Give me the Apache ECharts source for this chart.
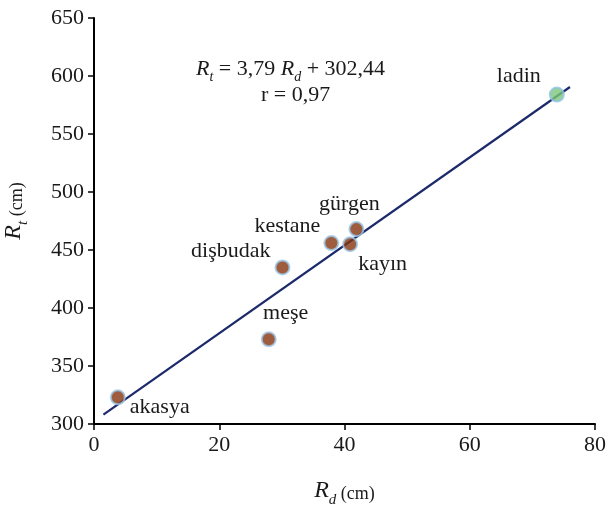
<!DOCTYPE html>
<html>
<head>
<meta charset="utf-8">
<script src="https://cdn.jsdelivr.net/npm/echarts@6/dist/echarts.min.js"></script>
<style>html,body{margin:0;padding:0;background:#fff}#c{width:609px;height:506px}</style>
</head>
<body>
<div id="c"></div>
<script>
// Data
const species = ['akasya', 'meşe', 'dişbudak', 'kestane', 'kayın', 'gürgen', 'ladin'];
const rdValues = [3.8, 27.9, 30.1, 37.9, 40.9, 41.9, 73.9];
const rtValues = [323, 373, 435, 456, 455, 468, 584];
const fitLineX = [1.5, 76];
const fitLineY = [308, 590.5];
const xTicks = [0, 20, 40, 60, 80];
const yTicks = [300, 350, 400, 450, 500, 550, 600, 650];

const FONT = '"Liberation Serif", "DejaVu Serif", serif';

// label placement per species: [align, verticalAlign, dx, dy]
const labelPlace = {
  'akasya':   ['left', 'middle', 12, 10],
  'meşe':     ['center', 'middle', 17, -26],
  'dişbudak': ['right', 'middle', -12, -16],
  'kestane':  ['right', 'middle', -11, -17],
  'kayın':    ['left', 'middle', 8, 20],
  'gürgen':   ['center', 'middle', -7, -25],
  'ladin':    ['right', 'middle', -16, -18]
};

const scatterData = species.map((name, i) => {
  const p = labelPlace[name];
  const isLadin = name === 'ladin';
  return {
    name: name,
    value: [rdValues[i], rtValues[i]],
    itemStyle: {
      color: isLadin ? '#7cc77a' : '#86340e',
      borderColor: isLadin ? '#8fc3e6' : '#9cc8ea',
      borderWidth: 2
    },
    label: {
      show: true,
      position: 'inside',
      formatter: name,
      align: p[0],
      verticalAlign: p[1],
      offset: [p[2], p[3]],
      color: '#1a1a1a',
      textBorderColor: 'transparent',
      textBorderWidth: 0,
      opacity: 1,
      fontFamily: FONT,
      fontSize: 22
    }
  };
});

const chart = echarts.init(document.getElementById('c'));
chart.setOption({
  animation: false,
  backgroundColor: '#fff',
  grid: { left: 94, right: 14, top: 18, bottom: 82, containLabel: false, outerBoundsMode: 'none' },
  xAxis: {
    type: 'value',
    min: xTicks[0], max: xTicks[xTicks.length - 1], interval: 20,
    axisLine: { show: true, lineStyle: { color: '#000', width: 2 } },
    axisTick: { show: true, inside: false, length: 6, lineStyle: { color: '#000', width: 1.5 } },
    splitLine: { show: false },
    axisLabel: { color: '#1a1a1a', fontFamily: FONT, fontSize: 22, margin: 10 },
    name: '{i|R}{s|d}{n| (cm)}',
    nameLocation: 'middle',
    nameGap: 53,
    nameTextStyle: {
      rich: {
        i: { fontFamily: FONT, fontStyle: 'italic', fontSize: 24, color: '#1a1a1a', verticalAlign: 'bottom', lineHeight: 26 },
        s: { fontFamily: FONT, fontStyle: 'italic', fontSize: 15, color: '#1a1a1a', verticalAlign: 'bottom', lineHeight: 18, padding: [0, 0, -5, 0] },
        n: { fontFamily: FONT, fontSize: 18, color: '#1a1a1a', verticalAlign: 'bottom', lineHeight: 22 }
      }
    }
  },
  yAxis: {
    type: 'value',
    min: yTicks[0], max: yTicks[yTicks.length - 1], interval: 50,
    axisLine: { show: true, lineStyle: { color: '#000', width: 2 } },
    axisTick: { show: true, inside: false, length: 6, lineStyle: { color: '#000', width: 1.5 } },
    splitLine: { show: false },
    axisLabel: { color: '#1a1a1a', fontFamily: FONT, fontSize: 22, margin: 10 },
    name: '{i|R}{s|t}{n| (cm)}',
    nameLocation: 'middle',
    nameGap: 68,
    nameRotate: 90,
    nameTextStyle: {
      padding: [0, 0, 0, 20],
      rich: {
        i: { fontFamily: FONT, fontStyle: 'italic', fontSize: 24, color: '#1a1a1a', verticalAlign: 'bottom', lineHeight: 26 },
        s: { fontFamily: FONT, fontStyle: 'italic', fontSize: 15, color: '#1a1a1a', verticalAlign: 'bottom', lineHeight: 18, padding: [0, 0, -5, 0] },
        n: { fontFamily: FONT, fontSize: 18, color: '#1a1a1a', verticalAlign: 'bottom', lineHeight: 22 }
      }
    }
  },
  graphic: [
    {
      type: 'text',
      left: 196, top: 58,
      style: {
        text: '{i|R}{s|t}{n| = 3,79 }{i|R}{s|d}{n| + 302,44}',
        rich: {
          i: { fontFamily: FONT, fontStyle: 'italic', fontSize: 22, fill: '#1a1a1a', verticalAlign: 'bottom', lineHeight: 24 },
          s: { fontFamily: FONT, fontStyle: 'italic', fontSize: 14, fill: '#1a1a1a', verticalAlign: 'bottom', lineHeight: 16, padding: [0, 0, -4, 0] },
          n: { fontFamily: FONT, fontSize: 22, fill: '#1a1a1a', verticalAlign: 'bottom', lineHeight: 24 }
        }
      }
    },
    {
      type: 'text',
      left: 261, top: 84,
      style: { text: 'r = 0,97', fontFamily: FONT, fontSize: 22, fill: '#1a1a1a' }
    }
  ],
  series: [
    {
      type: 'line',
      data: fitLineX.map((x, i) => [x, fitLineY[i]]),
      showSymbol: false,
      symbol: 'none',
      lineStyle: { color: '#1c2a6b', width: 2.2 },
      z: 2
    },
    {
      type: 'scatter',
      symbolSize: 14,
      data: scatterData,
      z: 3
    }
  ]
});
</script>
</body>
</html>
